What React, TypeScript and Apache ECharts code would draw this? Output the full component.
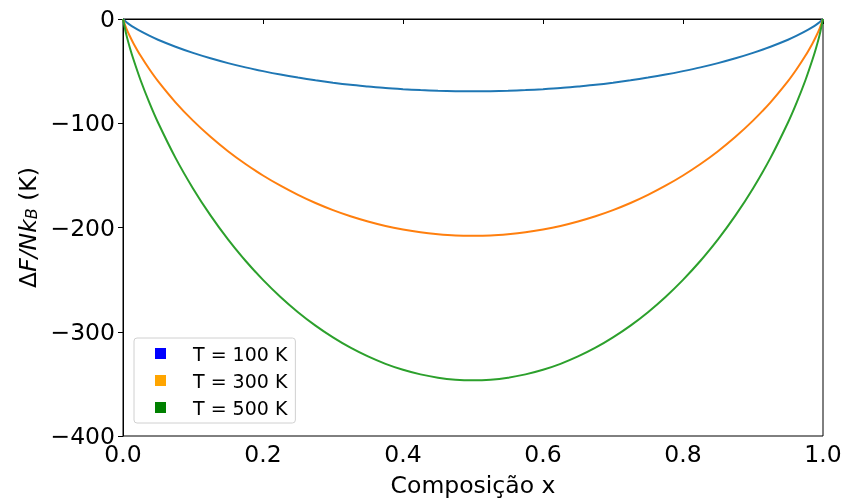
import React, { useEffect, useRef } from "react";
import * as echarts from "echarts";

// composition values (x), left half; the curves are symmetric about x = 0.5
const xsHalf = [0, 0.005, 0.01, 0.015, 0.025, 0.0375, 0.05, 0.075, 0.1, 0.125, 0.15, 0.175, 0.2,
  0.225, 0.25, 0.275, 0.3, 0.325, 0.35, 0.375, 0.4, 0.425, 0.45, 0.475, 0.5];

const half100 = [0, -3.1, -5.6, -7.8, -11.7, -16.0, -19.9, -26.6, -32.5, -37.7, -42.3, -46.4, -50.0,
  -53.3, -56.2, -58.8, -61.1, -63.1, -64.7, -66.2, -67.3, -68.2, -68.8, -69.2, -69.3];
const half300 = [0, -9.4, -16.8, -23.4, -35.1, -48.0, -59.6, -79.9, -97.5, -113.0, -126.8, -139.1, -150.1,
  -159.9, -168.7, -176.5, -183.3, -189.2, -194.2, -198.5, -201.9, -204.6, -206.4, -207.6, -207.9];
const half500 = [0, -15.7, -28.0, -38.9, -58.5, -80.0, -99.3, -133.2, -162.5, -188.4, -211.4, -231.9, -250.2,
  -266.6, -281.2, -294.1, -305.4, -315.3, -323.7, -330.8, -336.5, -340.9, -344.1, -346.0, -346.6];

const xs = xsHalf.concat(xsHalf.slice(0, -1).reverse().map((x) => 1 - x));
const mirror = (h: number[]) => h.concat(h.slice(0, -1).reverse());
const values100 = mirror(half100);
const values300 = mirror(half300);
const values500 = mirror(half500);

const seriesNames = ["T = 100 K", "T = 300 K", "T = 500 K"];
const lineColors = ["#1f77b4", "#ff7f0e", "#2ca02c"];
const legendColors = ["blue", "orange", "green"];

export default function App() {
  const ref = useRef<HTMLDivElement>(null);
  useEffect(() => {
    if (!ref.current) return;
    const chart = echarts.init(ref.current, undefined, { renderer: "svg" });
    const font = "DejaVu Sans";
    const fs = 23.5;
    const all = [values100, values300, values500];
    chart.setOption({
      animation: false,
      textStyle: { fontFamily: font },
      grid: { left: 123, right: 22, top: 19, bottom: 65, show: true, borderColor: "#000", borderWidth: 1, backgroundColor: "transparent" },
      legend: {
        orient: "vertical",
        left: 134,
        top: 338,
        padding: [6, 8, 6, 21],
        itemGap: 8,
        itemWidth: 11,
        itemHeight: 11,
        icon: "rect",
        borderColor: "#d0d0d0",
        borderWidth: 1,
        borderRadius: 3,
        backgroundColor: "rgba(255,255,255,0.8)",
        textStyle: { fontFamily: font, fontSize: 19, lineHeight: 19, color: "#000", padding: [0, 0, 0, 22] },
        data: seriesNames.map((n, i) => ({ name: n, itemStyle: { color: legendColors[i] } })),
      },
      xAxis: {
        type: "value",
        min: 0,
        max: 1,
        interval: 0.2,
        name: "Composição x",
        nameLocation: "middle",
        nameGap: 37,
        nameTextStyle: { fontFamily: font, fontSize: fs, color: "#000" },
        axisLine: { show: true, lineStyle: { color: "#000" } },
        axisTick: { show: true, inside: false, length: 5, lineStyle: { color: "#000" } },
        axisLabel: { fontFamily: font, fontSize: fs, color: "#000", margin: 6, formatter: (v: number) => v.toFixed(1) },
        splitLine: { show: false },
      },
      yAxis: {
        type: "value",
        min: -400,
        max: 0,
        interval: 100,
        name: "{r|Δ}{i|F/Nk}{s|B}{r| (K)}",
        nameLocation: "middle",
        nameRotate: 90,
        nameGap: 80,
        nameTextStyle: {
          fontFamily: font,
          fontSize: fs,
          color: "#000",
          rich: {
            r: { fontFamily: font, fontSize: fs, color: "#000" },
            i: { fontFamily: font, fontSize: fs, fontStyle: "italic", color: "#000" },
            s: { fontFamily: font, fontSize: 16, fontStyle: "italic", color: "#000", verticalAlign: "bottom", padding: [8, 0, 0, 0] },
          },
        },
        axisLine: { show: true, lineStyle: { color: "#000" } },
        axisTick: { show: true, inside: false, length: 5, lineStyle: { color: "#000" } },
        axisLabel: { fontFamily: font, fontSize: fs, color: "#000", margin: 8, formatter: (v: number) => (v < 0 ? "\u2212" + Math.abs(v) : String(v)) },
        splitLine: { show: false },
      },
      series: seriesNames.map((n, i) => ({
        name: n,
        type: "line",
        smooth: 0.3,
        showSymbol: false,
        symbol: "none",
        lineStyle: { color: lineColors[i], width: 2 },
        itemStyle: { color: legendColors[i] },
        data: xs.map((x, k) => [x, all[i][k]]),
      })),
    });
    return () => chart.dispose();
  }, []);
  return <div ref={ref} style={{ position: "fixed", left: 0, top: 0, width: 845, height: 502 }} />;
}
